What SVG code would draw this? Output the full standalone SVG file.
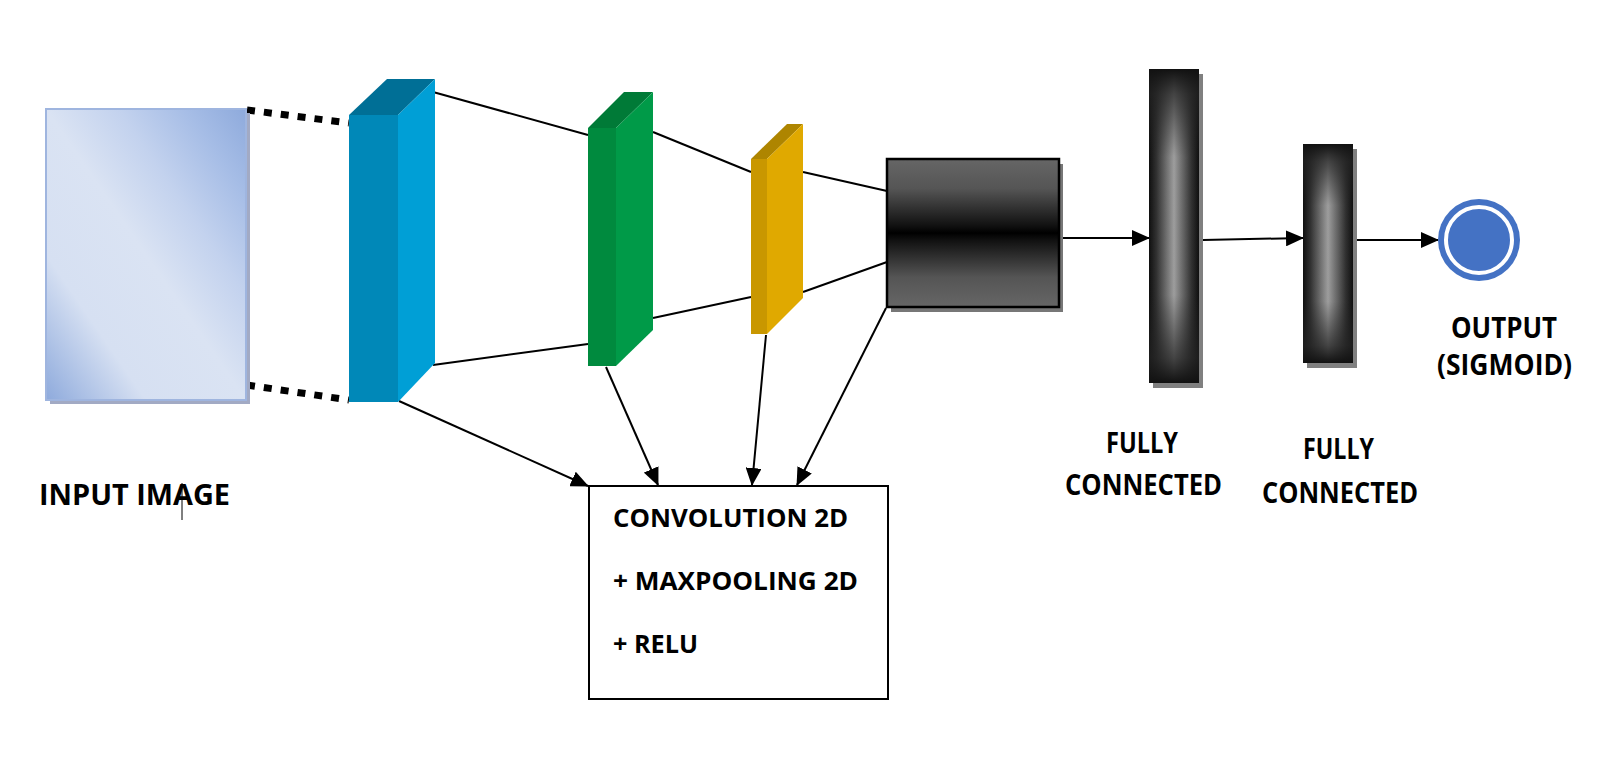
<svg xmlns="http://www.w3.org/2000/svg" width="1620" height="781" viewBox="0 0 1620 781">
<defs>
<style>
.lbl{font-family:"Open Sans","Liberation Sans",sans-serif;font-weight:bold;font-size:28px;fill:#000}
.box{font-family:"Open Sans","Liberation Sans",sans-serif;font-weight:bold;font-size:25px;fill:#000}
.ln{stroke:#000;stroke-width:2;fill:none}
.arr{stroke:#000;stroke-width:2;fill:none;marker-end:url(#ah)}
.dot{stroke:#000;stroke-width:7;stroke-dasharray:8 9;fill:none}
</style>
<marker id="ah" markerWidth="18" markerHeight="16" refX="17" refY="8" orient="auto" markerUnits="userSpaceOnUse">
<path d="M0,0 L18,8 L0,16 Z" fill="#000"/>
</marker>
<linearGradient id="gIn" x1="0" y1="1" x2="1" y2="0">
<stop offset="0" stop-color="#8eaadc"/>
<stop offset="0.25" stop-color="#d6e0f2"/>
<stop offset="0.5" stop-color="#dae3f3"/>
<stop offset="0.68" stop-color="#c3d2ee"/>
<stop offset="0.85" stop-color="#a6bde6"/>
<stop offset="1" stop-color="#8eaadc"/>
</linearGradient>
<linearGradient id="gFlat" x1="0" y1="0" x2="0" y2="1">
<stop offset="0" stop-color="#666"/>
<stop offset="0.2" stop-color="#555"/>
<stop offset="0.45" stop-color="#111"/>
<stop offset="0.5" stop-color="#000"/>
<stop offset="0.55" stop-color="#111"/>
<stop offset="0.8" stop-color="#555"/>
<stop offset="1" stop-color="#666"/>
</linearGradient>
<linearGradient id="gFcH" x1="0" y1="0" x2="1" y2="0">
<stop offset="0" stop-color="#0d0d0d"/>
<stop offset="0.15" stop-color="#333"/>
<stop offset="0.5" stop-color="#ababab"/>
<stop offset="0.85" stop-color="#333"/>
<stop offset="1" stop-color="#0d0d0d"/>
</linearGradient>
<linearGradient id="gFcV" x1="0" y1="0" x2="0" y2="1">
<stop offset="0" stop-color="#111" stop-opacity="1"/>
<stop offset="0.08" stop-color="#222" stop-opacity="0.75"/>
<stop offset="0.28" stop-color="#222" stop-opacity="0.1"/>
<stop offset="0.72" stop-color="#222" stop-opacity="0.1"/>
<stop offset="0.92" stop-color="#222" stop-opacity="0.75"/>
<stop offset="1" stop-color="#111" stop-opacity="1"/>
</linearGradient>
</defs>
<rect width="1620" height="781" fill="#fff"/>

<g id="connectors">
<line class="dot" x1="247" y1="110" x2="349" y2="123"/>
<line class="dot" x1="247" y1="385" x2="349" y2="400"/>
<line class="ln" x1="433" y1="92" x2="588" y2="135"/>
<line class="ln" x1="433" y1="365" x2="588" y2="344"/>
<line class="ln" x1="653" y1="132" x2="751" y2="172"/>
<line class="ln" x1="653" y1="318" x2="751" y2="297"/>
<line class="ln" x1="803" y1="172" x2="887" y2="191"/>
<line class="ln" x1="803" y1="292" x2="887" y2="262"/>
<line class="arr" x1="399" y1="401" x2="588" y2="486"/>
<line class="arr" x1="606" y1="367" x2="658" y2="485"/>
<line class="arr" x1="766" y1="335" x2="752" y2="485"/>
<line class="arr" x1="886" y1="308" x2="797" y2="485"/>
<line class="arr" x1="1061" y1="238" x2="1149" y2="238"/>
<line class="arr" x1="1203" y1="240" x2="1303" y2="238"/>
<line class="arr" x1="1355" y1="240" x2="1438" y2="240"/>
</g>

<g id="input-image">
<rect x="50" y="113" width="200" height="291" fill="#a2aac4"/>
<rect x="46" y="109" width="200" height="291" fill="url(#gIn)" stroke="#9fb5df" stroke-width="2"/>
<text class="lbl" x="39" y="505" textLength="191" lengthAdjust="spacingAndGlyphs">INPUT IMAGE</text>
<line x1="182" y1="483" x2="182" y2="520" stroke="#000" stroke-width="1"/>
</g>

<g id="conv1">
<polygon points="349,115 387,79 435,79 398,115" fill="#006f96"/>
<polygon points="398,115 435,79 435,363 398,402" fill="#009fd6"/>
<rect x="349" y="115" width="49" height="287" fill="#0088b8"/>
</g>

<g id="conv2">
<polygon points="588,128 624,92 653,92 616,128" fill="#007a37"/>
<polygon points="616,128 653,92 653,330 616,366" fill="#009a48"/>
<rect x="588" y="128" width="28" height="238" fill="#008a3e"/>
</g>

<g id="conv3">
<polygon points="751,159 787,124 803,124 767,159" fill="#ae8500"/>
<polygon points="767,159 803,124 803,298 767,334" fill="#e0a900"/>
<rect x="751" y="159" width="16" height="175" fill="#c99700"/>
</g>

<g id="flatten">
<rect x="891" y="164" width="172" height="148" fill="#777"/>
<rect x="887" y="159" width="172" height="148" fill="url(#gFlat)" stroke="#000" stroke-width="2.5"/>
</g>

<g id="fc1">
<rect x="1153" y="74" width="50" height="314" fill="#808080"/>
<rect x="1149" y="69" width="50" height="314" fill="url(#gFcH)"/>
<rect x="1149" y="69" width="50" height="314" fill="url(#gFcV)"/>
<text class="lbl" x="1106" y="453" textLength="72" lengthAdjust="spacingAndGlyphs">FULLY</text>
<text class="lbl" x="1065" y="495" textLength="157" lengthAdjust="spacingAndGlyphs">CONNECTED</text>
</g>

<g id="fc2">
<rect x="1307" y="149" width="50" height="219" fill="#808080"/>
<rect x="1303" y="144" width="50" height="219" fill="url(#gFcH)"/>
<rect x="1303" y="144" width="50" height="219" fill="url(#gFcV)"/>
<text class="lbl" x="1303" y="459" textLength="71" lengthAdjust="spacingAndGlyphs">FULLY</text>
<text class="lbl" x="1262" y="503" textLength="156" lengthAdjust="spacingAndGlyphs">CONNECTED</text>
</g>

<g id="output">
<circle cx="1479" cy="240" r="41" fill="#4472c4"/>
<circle cx="1479" cy="240" r="33" fill="none" stroke="#fff" stroke-width="4"/>
<text class="lbl" x="1451" y="338" textLength="106" lengthAdjust="spacingAndGlyphs">OUTPUT</text>
<text class="lbl" x="1437" y="375" textLength="135" lengthAdjust="spacingAndGlyphs">(SIGMOID)</text>
</g>

<g id="conv-box">
<rect x="589" y="486" width="299" height="213" fill="#fff" stroke="#000" stroke-width="2"/>
<text class="box" x="613" y="527" textLength="235" lengthAdjust="spacingAndGlyphs">CONVOLUTION 2D</text>
<text class="box" x="613" y="590" textLength="245" lengthAdjust="spacingAndGlyphs">+ MAXPOOLING 2D</text>
<text class="box" x="613" y="653" textLength="85" lengthAdjust="spacingAndGlyphs">+ RELU</text>
</g>
</svg>
